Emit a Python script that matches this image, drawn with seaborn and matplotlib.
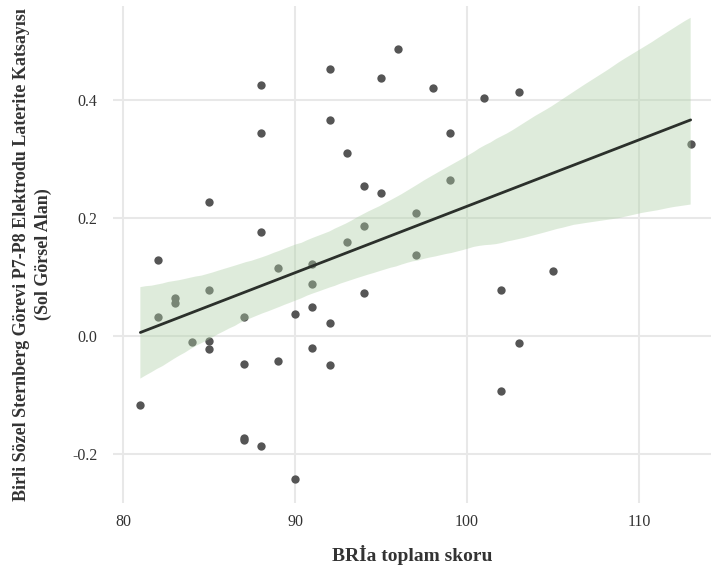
import matplotlib
matplotlib.use("Agg")
import matplotlib.pyplot as plt
import matplotlib.ticker as mticker
import seaborn as sns
import pandas as pd

bria_total = [81, 82, 82, 83, 83, 84, 85, 85, 85, 85, 87, 87, 87, 87,
              88, 88, 88, 88, 89, 89, 90, 90, 91, 91, 91, 91, 92, 92, 92, 92,
              93, 93, 94, 94, 94, 95, 95, 96, 97, 97, 98, 99, 99, 101, 102, 102,
              103, 103, 105, 113]
laterality = [-0.117, 0.129, 0.031, 0.064, 0.055, -0.010, 0.227, 0.077, -0.009, -0.022,
              0.031, -0.048, -0.174, -0.177,
              0.425, 0.344, 0.175, -0.187, 0.115, -0.043, 0.036, -0.243,
              0.122, 0.087, 0.048, -0.020, 0.451, 0.366, 0.022, -0.050,
              0.310, 0.158, 0.253, 0.185, 0.073, 0.436, 0.242, 0.485, 0.208, 0.137,
              0.420, 0.344, 0.263, 0.402, 0.078, -0.093, 0.412, -0.012, 0.110, 0.325]

x_ticks = [80, 90, 100, 110]
y_ticks = [-0.2, 0.0, 0.2, 0.4]

df = pd.DataFrame({"x": bria_total, "y": laterality})

sns.set_theme(style="whitegrid")
plt.rcParams["font.family"] = ["Liberation Serif", "DejaVu Serif"]

fig = plt.figure(figsize=(7.12, 5.65), dpi=100)
ax = fig.add_axes([0.159, 0.110, 0.840, 0.880])

sns.regplot(data=df, x="x", y="y", ax=ax, ci=95, seed=7,
            scatter_kws=dict(s=36, color="#555555", alpha=1, linewidths=0),
            line_kws=dict(color="#2b302b", linewidth=2.0),
            color="#aecfa6")
for coll in ax.collections[1:]:
    coll.set_facecolor("#aecfa6")
    coll.set_alpha(0.4)
    coll.set_edgecolor("none")

ax.set_xlim(79.42, 114.2)
ax.set_ylim(-0.283, 0.559)
ax.set_xticks(x_ticks)
ax.set_yticks(y_ticks)
ax.yaxis.set_major_formatter(mticker.FuncFormatter(lambda v, p: f"{v:.1f}".replace("\u2212", "-")))
for s in ax.spines.values():
    s.set_visible(False)
ax.grid(True, color="#e8e8e8", linewidth=1.5)
ax.tick_params(axis="both", labelsize=11.5, colors="#333333", length=0)
ax.tick_params(axis="y", pad=11.5)
ax.tick_params(axis="x", pad=8)
ax.set_xlabel("BRİa toplam skoru", fontsize=14, fontweight="bold", color="#333333", labelpad=11)
ax.set_ylabel("Birli Sözel Sternberg Görevi P7-P8 Elektrodu Laterite Katsayısı\n(Sol Görsel Alan)",
              fontsize=13, fontweight="bold", color="#333333", linespacing=1.4)
ax.yaxis.set_label_coords(-0.102, 0.5)

fig.savefig("out.png", dpi=100)
